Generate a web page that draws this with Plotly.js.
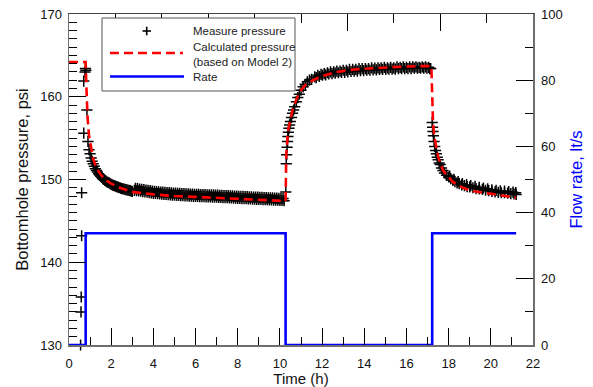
<!DOCTYPE html>
<html>
<head>
<meta charset="utf-8">
<script src="https://cdn.plot.ly/plotly-3.0.1.min.js"></script>
<style>html,body{margin:0;padding:0;background:#fff}#chart{width:593px;height:387px}</style>
</head>
<body>
<div id="chart"></div>
<script>
// ---- Measured pressure (psi) vs time (h) ----
// early spike before the rate starts
var measTimeA = [0.55,0.57,0.58,0.6,0.6,0.7,0.7,0.76,0.78,0.8,0.85,0.9];
var measPresA = [130.0,134.0,135.8,143.2,148.4,155.6,161.9,163.0,163.4,163.2,158.4,154.6];

// first drawdown: steep part
var measTimeB1 = [0.95,1.0,1.05,1.1,1.15,1.2,1.25,1.3,1.35,1.4,1.45,1.5,1.55,1.6,1.65,1.7,1.75,1.8,1.85,1.9,1.95,2.0,
  2.05,2.1,2.15,2.2,2.25,2.3,2.35,2.4,2.45,2.5,2.55,2.6,2.65,2.7,2.75,2.8,2.85,2.9,2.95,3.0];
var measPresB1 = [153.6,153.1,152.6,152.2,151.9,151.6,151.3,151.1,150.9,150.7,150.55,150.4,150.25,150.1,150.0,149.9,149.8,149.7,149.65,149.6,149.5,149.4,
  149.35,149.3,149.25,149.2,149.15,149.1,149.05,149.0,148.95,148.9,148.88,148.85,148.8,148.78,148.75,148.7,148.68,148.65,148.6,148.55];

// first drawdown: flat part (lower edge of band)
var measTimeB2 = [3.1,3.2,3.3,3.4,3.5,3.6,3.7,3.8,3.9,
  4.0,4.1,4.2,4.3,4.4,4.5,4.6,4.7,4.8,4.9,
  5.0,5.1,5.2,5.3,5.4,5.5,5.6,5.7,5.8,5.9,
  6.0,6.1,6.2,6.3,6.4,6.5,6.6,6.7,6.8,6.9,
  7.0,7.1,7.2,7.3,7.4,7.5,7.6,7.7,7.8,7.9,
  8.0,8.1,8.2,8.3,8.4,8.5,8.6,8.7,8.8,8.9,
  9.0,9.1,9.2,9.3,9.4,9.5,9.6,9.7,9.8,9.9,
  10.0,10.1,10.2];
var measPresB2 = [148.68,148.65,148.62,148.58,148.53,148.5,148.46,148.42,148.38,
  148.33,148.31,148.29,148.26,148.23,148.21,148.19,148.17,148.15,148.12,
  148.1,148.09,148.07,148.06,148.05,148.03,148.02,148.0,147.99,147.97,
  147.96,147.95,147.94,147.93,147.92,147.91,147.9,147.89,147.88,147.87,
  147.86,147.85,147.83,147.82,147.81,147.8,147.78,147.77,147.76,147.74,
  147.73,147.72,147.7,147.69,147.68,147.67,147.65,147.64,147.63,147.61,
  147.6,147.59,147.58,147.56,147.55,147.54,147.53,147.51,147.5,147.49,
  147.48,147.46,147.43];

// first drawdown: flat part (upper edge of band)
var measTimeB3 = [3.15,3.25,3.35,3.45,3.55,3.65,3.75,3.85,3.95,
  4.05,4.15,4.25,4.35,4.45,4.55,4.65,4.75,4.85,4.95,
  5.05,5.15,5.25,5.35,5.45,5.55,5.65,5.75,5.85,5.95,
  6.05,6.15,6.25,6.35,6.45,6.55,6.65,6.75,6.85,6.95,
  7.05,7.15,7.25,7.35,7.45,7.55,7.65,7.75,7.85,7.95,
  8.05,8.15,8.25,8.35,8.45,8.55,8.65,8.75,8.85,8.95,
  9.05,9.15,9.25,9.35,9.45,9.55,9.65,9.75,9.85,9.95,
  10.05,10.15];
var measPresB3 = [148.92,148.89,148.85,148.8,148.77,148.73,148.69,148.65,148.6,
  148.57,148.55,148.52,148.49,148.47,148.45,148.43,148.41,148.38,148.36,
  148.35,148.33,148.32,148.3,148.29,148.27,148.26,148.24,148.23,148.22,
  148.21,148.2,148.19,148.18,148.17,148.16,148.15,148.14,148.13,148.12,
  148.1,148.09,148.08,148.06,148.05,148.04,148.02,148.01,148.0,147.98,
  147.97,147.96,147.95,147.93,147.92,147.91,147.89,147.88,147.87,147.86,
  147.84,147.83,147.82,147.81,147.79,147.78,147.77,147.75,147.74,147.73,
  147.71,147.69];

// build-up (shut-in)
var measTimeC1 = [10.28,10.3,10.32,10.34,10.36,10.38,10.4,10.43,10.46,10.5,
  10.55,10.6,10.65,10.7,10.78,10.85,10.92,11.0,11.1,11.2,
  11.3,11.4,11.5,11.65,11.8,11.95,12.1,12.25,12.4,12.55,
  12.7,12.85,13.0,13.15,13.3,13.45,13.6,13.75,13.9,14.05,
  14.2,14.35,14.5,14.65,14.8,14.95,15.1,15.25,15.4,15.55,
  15.7,15.85,16.0,16.15,16.3,16.45,16.6,16.75,16.9,17.05,
  17.15];
var measPresC1 = [148.5,151.9,153.0,153.9,154.6,155.2,155.7,156.2,156.6,157.0,
  157.5,158.0,158.4,158.8,159.4,159.9,160.3,160.8,161.2,161.5,
  161.8,162.0,162.1,162.4,162.6,162.7,162.8,162.9,163.0,163.0,
  163.1,163.1,163.2,163.2,163.3,163.3,163.3,163.4,163.4,163.4,
  163.4,163.5,163.45,163.5,163.5,163.55,163.5,163.55,163.5,163.6,
  163.55,163.6,163.55,163.6,163.6,163.6,163.55,163.6,163.6,163.55,
  163.4];
var measTimeC2 = [11.72,11.87,12.02,12.17,12.32,12.47,12.62,12.77,12.92,13.07,
  13.22,13.37,13.52,13.67,13.82,13.97,14.12,14.27,14.42,14.57,
  14.72,14.87,15.02,15.17,15.32,15.47,15.62,15.77,15.92,16.07,
  16.22,16.37,16.52,16.67,16.82,16.97,17.1];
var measPresC2 = [162.3,162.45,162.6,162.65,162.75,162.8,162.85,162.9,162.95,162.95,
  163.0,163.05,163.1,163.1,163.15,163.15,163.2,163.2,163.25,163.25,
  163.3,163.3,163.3,163.35,163.35,163.35,163.4,163.4,163.4,163.4,
  163.4,163.45,163.45,163.45,163.45,163.45,163.4];

// second drawdown
var measTimeD1 = [17.22,17.24,17.26,17.28,17.31,17.34,17.38,17.42,17.46,17.5,
  17.55,17.6,17.66,17.73,17.8,17.9,18.0,18.1,18.2,18.3,
  18.4,18.5,18.62,18.75,18.88,19.0,19.15,19.3,19.45,19.6,
  19.75,19.9,20.05,20.2,20.35,20.5,20.65,20.8,20.95,21.1,
  21.2];
var measPresD1 = [156.9,156.3,155.8,155.3,154.6,154.0,153.5,153.1,152.7,152.4,
  152.0,151.8,151.4,151.1,150.8,150.5,150.3,150.1,149.9,149.75,
  149.6,149.5,149.35,149.25,149.15,149.1,149.0,148.9,148.85,148.8,
  148.7,148.65,148.55,148.5,148.45,148.4,148.4,148.35,148.3,148.25,
  148.2];
var measTimeD2 = [18.05,18.25,18.45,18.65,18.85,19.05,19.25,19.45,19.65,19.85,
  20.05,20.25,20.45,20.65,20.85,21.05,21.18];
var measPresD2 = [150.4,150.02,149.75,149.5,149.38,149.27,149.17,149.05,148.97,148.87,
  148.75,148.68,148.62,148.6,148.53,148.47,148.41];

// ---- Calculated pressure (Model 2) ----
var calcTime = [0,0.79,0.82,0.88,0.95,1.05,1.15,1.3,1.5,1.75,2.0,2.5,3.0,4.0,5.0,6.0,7.0,8.0,9.0,10.27,
  10.3,10.38,10.5,10.62,10.8,10.94,11.2,11.57,12.0,12.7,13.5,14.3,15.5,16.5,17.18,
  17.26,17.32,17.5,17.73,18.2,18.6,19.0,19.5,20.1,20.6,21.05,21.2];
var calcPres = [164.2,164.2,161.5,157.5,155.3,153.6,152.5,151.4,150.6,149.9,149.5,148.9,148.5,148.2,148.0,147.9,147.8,147.7,147.6,147.4,
  153.0,155.8,157.3,158.6,159.8,160.6,161.4,162.0,162.5,163.0,163.3,163.45,163.6,163.7,163.7,
  156.9,155.2,152.75,151.1,149.7,149.1,148.7,148.45,148.25,148.05,147.85,147.8];

// ---- Flow rate (lt/s), step changes ----
var rateTime = [0,0.79,10.27,17.22,21.2];
var rateVal  = [0,33.75,0,33.75,33.75];

// ---- Axis ticks ----
var xTickVals = [0,2,4,6,8,10,12,14,16,18,20,22];
var yTickVals = [130,140,150,160,170];
var y2TickVals = [0,20,40,60,80,100];

var measTime = measTimeA.concat(measTimeB1, measTimeB2, measTimeB3, measTimeC1, measTimeC2, measTimeD1, measTimeD2);
var measPres = measPresA.concat(measPresB1, measPresB2, measPresB3, measPresC1, measPresC2, measPresD1, measPresD2);

var FONT = 'Liberation Sans, Arial, sans-serif';
var AXC = '#6e6e6e';

var traces = [
  {x: measTime, y: measPres, mode: 'markers', type: 'scatter', name: 'Measure pressure',
   cliponaxis: false,
   marker: {symbol: 'cross-thin', size: 8, color: '#000', line: {width: 1.5, color: '#000'}}},
  {x: calcTime, y: calcPres, mode: 'lines', type: 'scatter', name: 'Calculated pressure (based on Model 2)',
   line: {color: '#ff0000', width: 2.6, dash: '9px,5px'}},
  {x: rateTime, y: rateVal, mode: 'lines', type: 'scatter', name: 'Rate', yaxis: 'y2',
   line: {color: '#0000ff', width: 2.6, shape: 'hv'}},
  {x: [0], y: [0], xaxis: 'x2', mode: 'markers', marker: {opacity: 0}, hoverinfo: 'skip', showlegend: false}
];

// legend geometry (paper coords)
function px2x(p){ return (p - 69) / 464; }
function px2y(p){ return 1 - (p - 14) / 331; }

var shapes = [
  {type: 'rect', xref: 'paper', yref: 'paper', x0: px2x(102), x1: px2x(295), y0: px2y(91), y1: px2y(18),
   line: {color: '#555', width: 1}, fillcolor: '#fff', layer: 'above'},
  {type: 'line', xref: 'paper', yref: 'paper', x0: px2x(142.5), x1: px2x(151), y0: px2y(31), y1: px2y(31),
   line: {color: '#000', width: 1.6}},
  {type: 'line', xref: 'paper', yref: 'paper', x0: px2x(146.7), x1: px2x(146.7), y0: px2y(26.7), y1: px2y(35.3),
   line: {color: '#000', width: 1.6}},
  {type: 'line', xref: 'paper', yref: 'paper', x0: px2x(110), x1: px2x(183), y0: px2y(53), y1: px2y(53),
   line: {color: '#ff0000', width: 2.6, dash: '9px,5px'}},
  {type: 'line', xref: 'paper', yref: 'paper', x0: px2x(110), x1: px2x(184), y0: px2y(76.5), y1: px2y(76.5),
   line: {color: '#0000ff', width: 2.6}}
];

var annotations = [
  {xref: 'paper', yref: 'paper', x: px2x(191), y: px2y(31), xanchor: 'left', yanchor: 'middle', showarrow: false,
   text: 'Measure pressure', font: {family: FONT, size: 11.5, color: '#222'}},
  {xref: 'paper', yref: 'paper', x: px2x(191), y: px2y(54.5), xanchor: 'left', yanchor: 'middle', showarrow: false, align: 'left',
   text: 'Calculated pressure<br>(based on Model 2)', font: {family: FONT, size: 11.5, color: '#222'}},
  {xref: 'paper', yref: 'paper', x: px2x(191), y: px2y(77), xanchor: 'left', yanchor: 'middle', showarrow: false,
   text: 'Rate', font: {family: FONT, size: 11.5, color: '#222'}}
];

var layout = {
  width: 593, height: 387,
  margin: {l: 69, r: 60, t: 14, b: 42, pad: 0},
  paper_bgcolor: '#fff', plot_bgcolor: '#fff',
  showlegend: false,
  font: {family: FONT, size: 13, color: '#111'},
  xaxis: {
    range: [0, 22], tickvals: xTickVals, ticktext: xTickVals.map(String),
    ticks: 'inside', ticklen: 17, tickwidth: 1, tickcolor: '#000',
    minor: {dtick: 1, tick0: 0, ticks: 'inside', ticklen: 8, tickwidth: 1, tickcolor: '#000'},
    showline: true, linecolor: AXC, linewidth: 1.5, showgrid: false, zeroline: false,
    ticklabelstandoff: 6,
    title: {text: 'Time (h)', font: {family: FONT, size: 15, color: '#111'}, standoff: 2}
  },
  xaxis2: {
    overlaying: 'x', side: 'top', range: [0, 22], tick0: 0, dtick: 4.4,
    ticks: 'inside', ticklen: 17, tickwidth: 1, tickcolor: '#000', showticklabels: false,
    minor: {dtick: 2.2, tick0: 0, ticks: 'inside', ticklen: 9, tickwidth: 1, tickcolor: '#000'},
    showline: true, linecolor: '#444', linewidth: 1.5, showgrid: false, zeroline: false
  },
  yaxis: {
    range: [130, 170], tickvals: yTickVals, ticktext: yTickVals.map(String),
    ticks: 'inside', ticklen: 17, tickwidth: 1, tickcolor: '#000',
    minor: {dtick: 1, tick0: 130, ticks: 'inside', ticklen: 8, tickwidth: 1, tickcolor: '#000'},
    showline: true, linecolor: AXC, linewidth: 1.5, showgrid: false, zeroline: false,
    ticklabelstandoff: 3,
    title: {text: 'Bottomhole pressure, psi', font: {family: FONT, size: 16.5, color: '#111'}, standoff: 7}
  },
  yaxis2: {
    overlaying: 'y', side: 'right', range: [0, 100], tickvals: y2TickVals, ticktext: y2TickVals.map(String),
    ticks: 'inside', ticklen: 17, tickwidth: 1, tickcolor: '#000',
    minor: {dtick: 10, tick0: 0, ticks: 'inside', ticklen: 8, tickwidth: 1, tickcolor: '#000'},
    showline: true, linecolor: AXC, linewidth: 1.5, showgrid: false, zeroline: false,
    ticklabelstandoff: 4,
    title: {text: 'Flow rate, lt/s', font: {family: FONT, size: 16.5, color: '#0000ff'}, standoff: 8}
  },
  shapes: shapes,
  annotations: annotations
};

Plotly.newPlot('chart', traces, layout, {staticPlot: true, displayModeBar: false});
</script>
</body>
</html>
